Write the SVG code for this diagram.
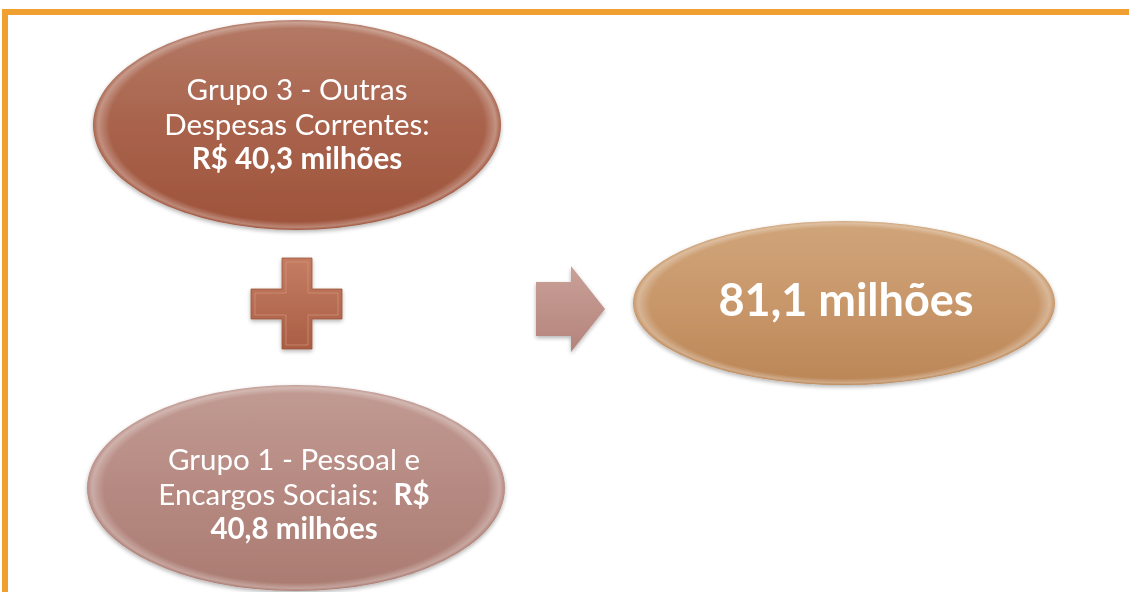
<svg xmlns="http://www.w3.org/2000/svg" width="1129" height="592" viewBox="0 0 1129 592">
<defs>
<linearGradient id="g1" x1="0" y1="0" x2="0" y2="1">
<stop offset="0" stop-color="#b47a66"/><stop offset="0.5" stop-color="#a9634c"/><stop offset="1" stop-color="#9e533b"/>
</linearGradient>
<linearGradient id="g2" x1="0" y1="0" x2="0" y2="1">
<stop offset="0" stop-color="#c19b93"/><stop offset="0.5" stop-color="#b68a82"/><stop offset="1" stop-color="#aa7b71"/>
</linearGradient>
<linearGradient id="g3" x1="0" y1="0" x2="0" y2="1">
<stop offset="0" stop-color="#d0a57a"/><stop offset="0.5" stop-color="#c8976a"/><stop offset="1" stop-color="#bb8656"/>
</linearGradient>
<linearGradient id="gp" x1="0" y1="0" x2="0" y2="1">
<stop offset="0" stop-color="#c47d63"/><stop offset="1" stop-color="#a95e44"/>
</linearGradient>
<linearGradient id="ga" x1="0" y1="0" x2="0" y2="1">
<stop offset="0" stop-color="#c9a098"/><stop offset="1" stop-color="#b4847b"/>
</linearGradient>
<radialGradient id="shine" cx="0.5" cy="0.5" r="0.5">
<stop offset="0.92" stop-color="#fff" stop-opacity="0"/><stop offset="0.975" stop-color="#fff" stop-opacity="0.3"/><stop offset="1" stop-color="#fff" stop-opacity="0"/>
</radialGradient>
<filter id="sh" x="-10%" y="-10%" width="120%" height="130%">
<feGaussianBlur in="SourceAlpha" stdDeviation="2"/><feOffset dy="2"/><feComponentTransfer><feFuncA type="linear" slope="0.3"/></feComponentTransfer>
<feMerge><feMergeNode/><feMergeNode in="SourceGraphic"/></feMerge>
</filter>
</defs>
<style>
.t{font-family:Lato,"Liberation Sans",sans-serif;fill:#fff;text-anchor:middle;font-size:29.5px}
.b{font-weight:bold}
</style>
<rect x="0" y="0" width="1129" height="592" fill="#fff"/>
<rect x="5" y="12" width="1140" height="600" fill="none" stroke="#f0a030" stroke-width="6"/>
<g id="node-grupo3" filter="url(#sh)">
<ellipse cx="297" cy="125" rx="204" ry="105" fill="url(#g1)"/>
<ellipse cx="297" cy="125" rx="204" ry="105" fill="url(#shine)"/>
<text class="t" x="297" y="100">Grupo 3 - Outras</text>
<text class="t" x="297" y="135">Despesas Correntes:</text>
<text class="t b" x="297" y="169">R$ 40,3 milhões</text>
</g>
<g id="node-grupo1" filter="url(#sh)">
<ellipse cx="296" cy="488" rx="209" ry="103" fill="url(#g2)"/>
<ellipse cx="296" cy="488" rx="209" ry="103" fill="url(#shine)"/>
<text class="t" x="294" y="470">Grupo 1 - Pessoal e</text>
<text class="t" x="294" y="505" xml:space="preserve">Encargos Sociais:  <tspan class="b">R$</tspan></text>
<text class="t b" x="294" y="539">40,8 milhões</text>
</g>
<g id="node-total" filter="url(#sh)">
<ellipse cx="844" cy="303" rx="211" ry="82" fill="url(#g3)"/>
<ellipse cx="844" cy="303" rx="211" ry="82" fill="url(#shine)"/>
<text class="t b" x="846" y="316" style="font-size:45px">81,1 milhões</text>
</g>
<g id="connectors">
<g id="plus" filter="url(#sh)">
<path d="M282 258 H312 V289 H342 V319 H312 V349 H282 V319 H251 V289 H282 Z" fill="url(#gp)" stroke="#9c533a" stroke-width="0.8"/>
<path d="M286 262 H308 V293 H338 V315 H308 V345 H286 V315 H255 V293 H286 Z" fill="none" stroke="#d99a82" stroke-width="1" opacity="0.6"/>
</g>
<g id="arrow" filter="url(#sh)">
<path d="M536 282 H571 V266 L605 309 L571 352 V336 H536 Z" fill="url(#ga)"/>
</g>
</g>
</svg>
